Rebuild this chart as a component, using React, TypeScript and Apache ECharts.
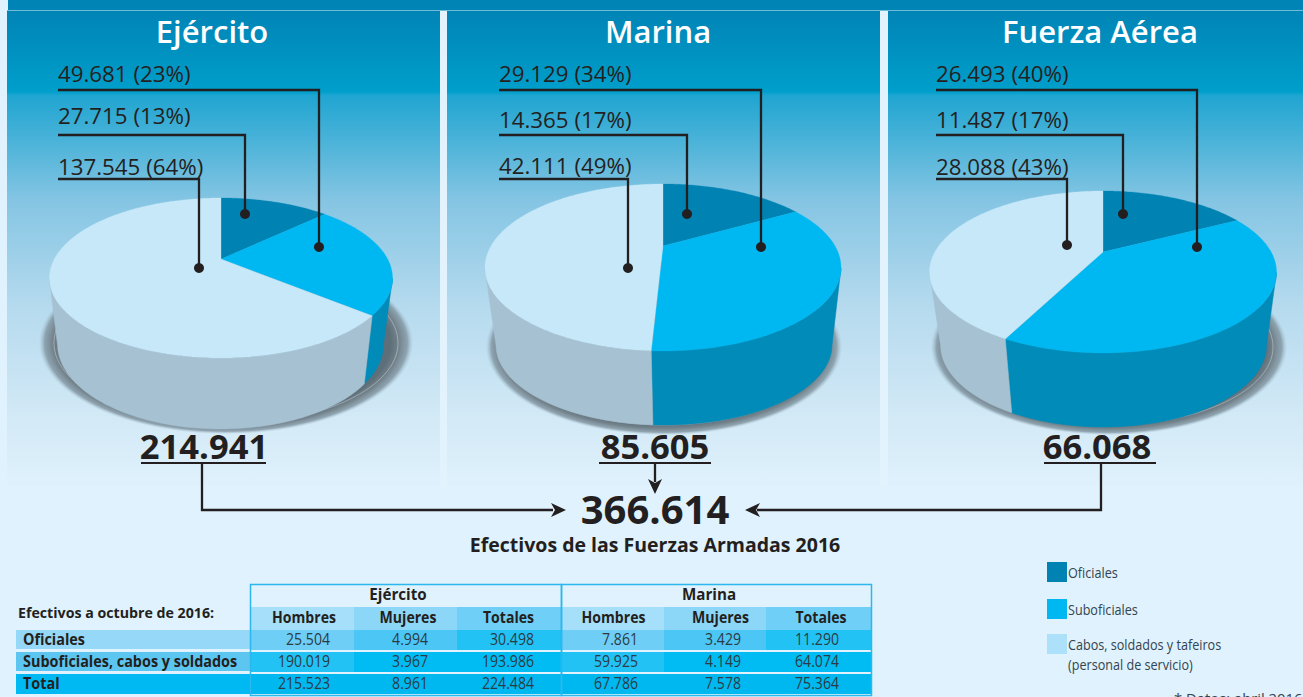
import React, { useEffect, useRef } from "react";
import * as echarts from "echarts";

// ---------- data ----------
const sliceNames = ["Oficiales", "Suboficiales", "Cabos, soldados y tafeiros"];
const ejercitoValues = [27715, 49681, 137545];
const marinaValues = [14365, 29129, 42111];
const fuerzaAereaValues = [11487, 26493, 28088];
const ejercitoPercents = [13, 23, 64];
const marinaPercents = [17, 34, 49];
const fuerzaAereaPercents = [17, 40, 43];
const branchTitles = ["Ejército", "Marina", "Fuerza Aérea"];
const branchTotals = ["214.941", "85.605", "66.068"];
const grandTotal = "366.614";
const subtitle = "Efectivos de las Fuerzas Armadas 2016";
const tableCaption = "Efectivos a octubre de 2016:";
const tableGroups = ["Ejército", "Marina"];
const tableColumns = ["Hombres", "Mujeres", "Totales"];
const tableRows = ["Oficiales", "Suboficiales, cabos y soldados", "Total"];
const oficialesRow = ["25.504", "4.994", "30.498", "7.861", "3.429", "11.290"];
const suboficialesRow = ["190.019", "3.967", "193.986", "59.925", "4.149", "64.074"];
const totalRow = ["215.523", "8.961", "224.484", "67.786", "7.578", "75.364"];
const legendLabels = [["Oficiales"], ["Suboficiales"], ["Cabos, soldados y tafeiros", "(personal de servicio)"]];
const footnote = "* Datos: abril 2016";

// ---------- styling & layout ----------
const FONT = "'Open Sans', 'Noto Sans', sans-serif";
const INK = "#231f20";
const topColors = ["#0083b3", "#00b8f1", "#c6e8f9"];
const wallColors = ["#0089b8", "#008bb9", "#a5c1d2"];
const legendColors = ["#0083b3", "#00b8f1", "#ade1f9"];

const pieLayouts = [
  { apex: [221, 259], left: 50, right: 393, top: 198, bottom: 358, base: [221, 344, 163, 85], shadow: [226, 343, 187, 91], ring: [226, 343, 172, 81] },
  { apex: [663, 246], left: 485, right: 841, top: 184, bottom: 351, base: [664, 345, 168, 80], shadow: [664, 347, 178, 88], ring: [664, 347, 164, 78] },
  { apex: [1103, 252], left: 930, right: 1277, top: 191, bottom: 353, base: [1104, 345, 163, 82], shadow: [1109, 347, 178, 88], ring: [1109, 347, 164, 78] },
];
const seriesValues = [ejercitoValues, marinaValues, fuerzaAereaValues];
const seriesPercents = [ejercitoPercents, marinaPercents, fuerzaAereaPercents];

const titleCenters = [212, 658, 1100];
const calloutLayouts = [
  { x: 58, labelY: [115, 73, 166], lineY: [135, 90, 179], lineX: [245, 319, 199], dotY: [214, 247, 268] },
  { x: 499, labelY: [119, 73, 165], lineY: [135, 90, 179], lineX: [687, 761, 628], dotY: [214, 247, 268] },
  { x: 936, labelY: [119, 73, 166], lineY: [135, 90, 179], lineX: [1123, 1197, 1067], dotY: [214, 247, 245] },
];
const totalLayouts = [
  { cx: 204, lx0: 141, lx1: 266 },
  { cx: 655, lx0: 599, lx1: 711 },
  { cx: 1097, lx0: 1044, lx1: 1156 },
];

function fmt(v: number) {
  return String(v).replace(/\B(?=(\d{3})+$)/g, ".");
}

function rimPoint(p: any, theta: number) {
  const to = p.apex[1] - p.top;
  const bo = p.bottom - p.apex[1];
  const k = (bo - to) / (bo + to);
  const rv = to * (1 + k);
  const a = (p.right - p.left) / 2;
  const r = a * Math.sqrt(1 - k * k);
  const x = Math.sin(theta);
  const y = -Math.cos(theta);
  const d = 1 - k * y;
  return [p.apex[0] + (r * x) / d, p.apex[1] + (rv * y) / d];
}

function basePoint(p: any, pt: number[]) {
  const ecx = (p.left + p.right) / 2;
  const ecy = (p.top + p.bottom) / 2;
  const a = (p.right - p.left) / 2;
  const b = (p.bottom - p.top) / 2;
  const u = (pt[0] - ecx) / a;
  const v = (pt[1] - ecy) / b;
  const [cx, cy, ba, bb] = p.base;
  return { pos: [cx + u * ba, cy + v * bb], v };
}

function pieSeries(values: number[], layout: any) {
  const sum = values.reduce((s, v) => s + v, 0);
  return {
    type: "custom",
    coordinateSystem: "none",
    silent: true,
    z: 3,
    data: values.map((v, i) => ({ name: sliceNames[i], value: v })),
    renderItem: (params: any, api: any) => {
      const i = params.dataIndex;
      const val = api.value(0);
      let before = 0;
      for (let j = 0; j < i; j++) before += values[j];
      const t0 = (before / sum) * Math.PI * 2;
      const t1 = ((before + val) / sum) * Math.PI * 2;
      const rim: number[][] = [];
      const steps = Math.max(2, Math.ceil(((t1 - t0) * 180) / Math.PI));
      for (let s = 0; s <= steps; s++) rim.push(rimPoint(layout, t0 + ((t1 - t0) * s) / steps));
      const front: number[][] = [];
      const back: number[][] = [];
      rim.forEach((pt) => {
        const b = basePoint(layout, pt);
        if (b.v >= 0) {
          front.push(pt);
          back.unshift(b.pos);
        }
      });
      const children: any[] = [];
      if (front.length > 1) {
        children.push({
          type: "polygon",
          shape: { points: front.concat(back) },
          style: { fill: wallColors[i], stroke: wallColors[i], lineWidth: 0.5 },
        });
      }
      children.push({
        type: "polygon",
        shape: { points: [layout.apex].concat(rim) },
        style: { fill: topColors[i], stroke: topColors[i], lineWidth: 0.3 },
      });
      return { type: "group", children };
    },
  };
}

function txt(text: string, x: number, y: number, size: number, o: any = {}) {
  return {
    type: "text",
    x,
    y,
    z: o.z ?? 20,
    scaleX: o.sx ?? 1,
    silent: true,
    style: {
      text,
      fill: o.fill ?? INK,
      fontFamily: FONT,
      fontSize: size,
      fontWeight: o.w ?? 400,
      textAlign: o.align ?? "left",
      textVerticalAlign: "middle",
    },
  };
}
function rect(x: number, y: number, w: number, h: number, fill: any, z = 1, extra: any = {}) {
  return { type: "rect", z, silent: true, shape: { x, y, width: w, height: h }, style: { fill, ...extra } };
}
function line(pts: number[][], width = 2.3, z = 20) {
  return {
    type: "polyline",
    z,
    silent: true,
    shape: { points: pts },
    style: { stroke: INK, lineWidth: width, fill: "none", lineJoin: "miter" },
  };
}
function arrowHead(tip: number[], dir: "r" | "l" | "d") {
  const L = 15, W = 7, N = 4;
  let pts: number[][];
  if (dir === "r") pts = [tip, [tip[0] - L, tip[1] - W], [tip[0] - L + N, tip[1]], [tip[0] - L, tip[1] + W]];
  else if (dir === "l") pts = [tip, [tip[0] + L, tip[1] - W], [tip[0] + L - N, tip[1]], [tip[0] + L, tip[1] + W]];
  else pts = [tip, [tip[0] - W, tip[1] - L], [tip[0], tip[1] - L + N], [tip[0] + W, tip[1] - L]];
  return { type: "polygon", z: 20, silent: true, shape: { points: pts }, style: { fill: INK } };
}

function buildGraphics() {
  const g: any[] = [];
  const panelGrad = {
    type: "linear", x: 0, y: 0, x2: 0, y2: 1,
    colorStops: [
      { offset: 0, color: "#0084b6" },
      { offset: 0.17, color: "#009fcb" },
      { offset: 0.178, color: "#1fa5d1" },
      { offset: 0.4, color: "#85c5e3" },
      { offset: 0.62, color: "#b5daee" },
      { offset: 0.85, color: "#d2e9f6" },
      { offset: 1, color: "#dff1fc" },
    ],
  };
  // page and panels
  g.push(rect(0, 0, 1303, 697, "#dff2fd", 0));
  g.push(rect(8, 0, 1295, 10, "#0083b5", 0));
  g.push(rect(7, 10, 1296, 1, "#6fbcd9", 0));
  [[7, 433], [447, 433], [888, 415]].forEach(([x, w]) => g.push(rect(x, 11, w, 475, panelGrad, 0)));
  g.push(rect(440, 11, 7, 475, "#e3f3fd", 0));
  g.push(rect(880, 11, 8, 475, "#e3f3fd", 0));

  // shadows beneath pies
  pieLayouts.forEach((p) => {
    const [cx, cy, a, b] = p.shadow;
    g.push({
      type: "ellipse", z: 1, silent: true,
      shape: { cx, cy, rx: a, ry: b },
      style: {
        fill: {
          type: "radial", x: 0.5, y: 0.5, r: 0.5,
          colorStops: [
            { offset: 0, color: "#5f6f7a" },
            { offset: 0.88, color: "#5f6f7a" },
            { offset: 0.93, color: "#76868f" },
            { offset: 0.97, color: "rgba(128,148,160,0.8)" },
            { offset: 1, color: "rgba(165,190,205,0.05)" },
          ],
        },
      },
    });
    const [rx, ry, rw, rh] = p.ring;
    g.push({
      type: "ellipse", z: 2, silent: true,
      shape: { cx: rx, cy: ry, rx: rw, ry: rh },
      style: { fill: "none", stroke: "rgba(255,255,255,0.4)", lineWidth: 0.8 },
    });
  });

  // titles
  branchTitles.forEach((t, i) => g.push(txt(t, titleCenters[i], 31, 31, { fill: "#fff", w: 600, align: "center" })));

  // callouts
  calloutLayouts.forEach((c, pi) => {
    [1, 0, 2].forEach((si) => {
      const lbl = `${fmt(seriesValues[pi][si])} (${seriesPercents[pi][si]}%)`;
      g.push(txt(lbl, c.x, c.labelY[si], 22.3));
      g.push(line([[c.x, c.lineY[si]], [c.lineX[si], c.lineY[si]], [c.lineX[si], c.dotY[si]]]));
      g.push({ type: "circle", z: 21, silent: true, shape: { cx: c.lineX[si], cy: c.dotY[si], r: 5 }, style: { fill: INK } });
    });
  });

  // totals
  totalLayouts.forEach((c, i) => {
    g.push(txt(branchTotals[i], c.cx, 445, 34.6, { w: 700, align: "center" }));
    g.push(line([[c.lx0, 463], [c.lx1, 463]], 2));
  });
  g.push(line([[202, 464], [202, 510], [553, 510]]));
  g.push(arrowHead([566, 510], "r"));
  g.push(line([[655, 464], [655, 482]]));
  g.push(arrowHead([655, 494], "d"));
  g.push(line([[1101, 464], [1101, 510], [757, 510]]));
  g.push(arrowHead([745, 510], "l"));
  g.push(txt(grandTotal, 655, 508, 40, { w: 700, align: "center" }));
  g.push(txt(subtitle, 655, 544, 19.5, { w: 700, align: "center" }));

  // table
  g.push(txt(tableCaption, 18, 612.5, 14.2, { w: 700 }));
  const colX = [250, 354, 457, 561, 664, 766, 871];
  const headCenter = [304, 408, 508.5, 613.5, 720.5, 821];
  const rowY = [630, 652, 674, 694];
  const labelFill = ["#96d8f7", "#5cc6f1", "#00b9f2"];
  const headFill = ["#a6dff9", "#8cd6f7", "#6fcff6"];
  const bodyFill = [
    ["#6fcef5", "#4cc6f5", "#22c2f4"],
    ["#22c2f4", "#00bcf2", "#00bcf2"],
    ["#00b8f0", "#00b8f0", "#00b8f0"],
  ];
  const rowsData = [oficialesRow, suboficialesRow, totalRow];
  const numRight = [330, 428, 534, 638, 741, 839];
  tableRows.forEach((r, ri) => {
    g.push(rect(16, rowY[ri], 234, ri === 2 ? 20 : 19, labelFill[ri], 2));
    g.push(txt(r, 23, rowY[ri] + 9, 16, { w: 700, sx: 0.9 }));
  });
  for (let c = 0; c < 6; c++) {
    g.push(rect(colX[c], 607, colX[c + 1] - colX[c], 23, headFill[c % 3], 2));
    g.push(txt(tableColumns[c % 3], headCenter[c], 617, 16, { w: 700, sx: 0.88, align: "center" }));
    rowsData.forEach((row, ri) => {
      g.push(rect(colX[c], rowY[ri], colX[c + 1] - colX[c], 20, bodyFill[ri][c % 3], 2));
      g.push(txt(row[c], numRight[c], rowY[ri] + 9, 16, { sx: 0.88, align: "right", fill: "#2b3a44" }));
    });
  }
  tableGroups.forEach((t, i) => {
    g.push(txt(t, i === 0 ? 398 : 709, 594, 16, { w: 700, sx: 0.95, align: "center" }));
  });
  [[250, 584, 311, 111], [561, 584, 310, 111]].forEach(([x, y, w, h]) =>
    g.push({ type: "rect", z: 3, silent: true, shape: { x: x + 0.5, y: y + 0.5, width: w, height: h }, style: { fill: "none", stroke: "#2ab8ef", lineWidth: 1.5 } })
  );

  // legend
  const legY = [562, 599, 634];
  legendLabels.forEach((ls, i) => {
    g.push(rect(1047, legY[i], 20, 20, legendColors[i], 2));
    ls.forEach((l, j) => g.push(txt(l, 1068, legY[i] + 10 + j * 20, 14.5, { sx: 0.87, fill: "#33444f" })));
  });
  g.push(txt(footnote, 1174, 698, 14.8, { fill: "#33444f" }));
  return g;
}

export default function App() {
  const ref = useRef<HTMLDivElement>(null);
  useEffect(() => {
    document.body.style.margin = "0";
    document.body.style.overflow = "hidden";
    const chart = echarts.init(ref.current!, undefined, { renderer: "svg" });
    chart.setOption({
      animation: false,
      backgroundColor: "#dff2fd",
      tooltip: { show: false },
      series: pieLayouts.map((l, i) => pieSeries(seriesValues[i], l)),
      graphic: { elements: buildGraphics() },
    });
    return () => chart.dispose();
  }, []);
  return <div ref={ref} style={{ position: "fixed", left: 0, top: 0, width: 1303, height: 697 }} />;
}
